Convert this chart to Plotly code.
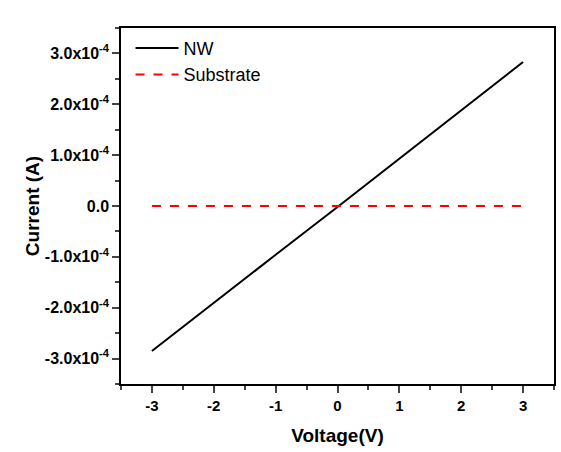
import plotly.graph_objects as go

voltage = [-3, -2, -1, 0, 1, 2, 3]
nw_current = [-2.85e-4, -1.90e-4, -0.96e-4, -0.02e-4, 0.93e-4, 1.88e-4, 2.83e-4]
sub_current = [0, 0, 0, 0, 0, 0, 0]

x_ticks = [-3, -2, -1, 0, 1, 2, 3]
x_ticktext = ["-3", "-2", "-1", "0", "1", "2", "3"]
y_tickvals = [3e-4, 2e-4, 1e-4, 0, -1e-4, -2e-4, -3e-4]
y_ticktext = ["3.0x10<sup>-4</sup>", "2.0x10<sup>-4</sup>", "1.0x10<sup>-4</sup>", "0.0",
              "-1.0x10<sup>-4</sup>", "-2.0x10<sup>-4</sup>", "-3.0x10<sup>-4</sup>"]

fig = go.Figure()
fig.add_trace(go.Scatter(x=voltage, y=nw_current, mode="lines", name="NW",
                         line=dict(color="black", width=2)))
fig.add_trace(go.Scatter(x=voltage, y=sub_current, mode="lines", name="Substrate",
                         line=dict(color="red", width=2, dash="dash")))

font_family = "Liberation Sans, Arial, sans-serif"
fig.update_layout(
    width=561, height=452,
    margin=dict(l=121, r=7, t=28, b=68, autoexpand=False),
    paper_bgcolor="white", plot_bgcolor="white",
    font=dict(family=font_family, color="black"),
    showlegend=True,
    legend=dict(x=0.022, y=0.995, xanchor="left", yanchor="top",
                bgcolor="rgba(0,0,0,0)", font=dict(size=18, family=font_family),
                itemwidth=43, tracegroupgap=0),
    xaxis=dict(range=[-3.5, 3.5], tickvals=x_ticks, ticktext=x_ticktext, ticks="outside", ticklen=7,
               tickwidth=1.5, linecolor="black", linewidth=1.5, mirror=True,
               showgrid=False, zeroline=False, automargin=False,
               tickfont=dict(size=15, family=font_family, weight="bold"),
               minor=dict(dtick=0.5, tick0=0, ticks="outside", ticklen=4, tickwidth=1.5, showgrid=False),
               title=dict(text="Voltage(V)", font=dict(size=19, family=font_family, weight="bold"),
                          standoff=16)),
    yaxis=dict(range=[-3.5e-4, 3.5e-4], tickvals=y_tickvals, ticktext=y_ticktext,
               ticks="outside", ticklen=7, tickwidth=1.5, linecolor="black", linewidth=1.5,
               mirror=True, showgrid=False, zeroline=False, automargin=False,
               tickfont=dict(size=16, family=font_family, weight="bold"),
               minor=dict(dtick=0.5e-4, tick0=0, ticks="outside", ticklen=4, tickwidth=1.5, showgrid=False),
               title=dict(text="Current (A)", font=dict(size=19, family=font_family, weight="bold"),
                          standoff=0)),
)

fig.write_html("out.html", config={"displayModeBar": False},
               post_script="document.body.style.margin='0';")
